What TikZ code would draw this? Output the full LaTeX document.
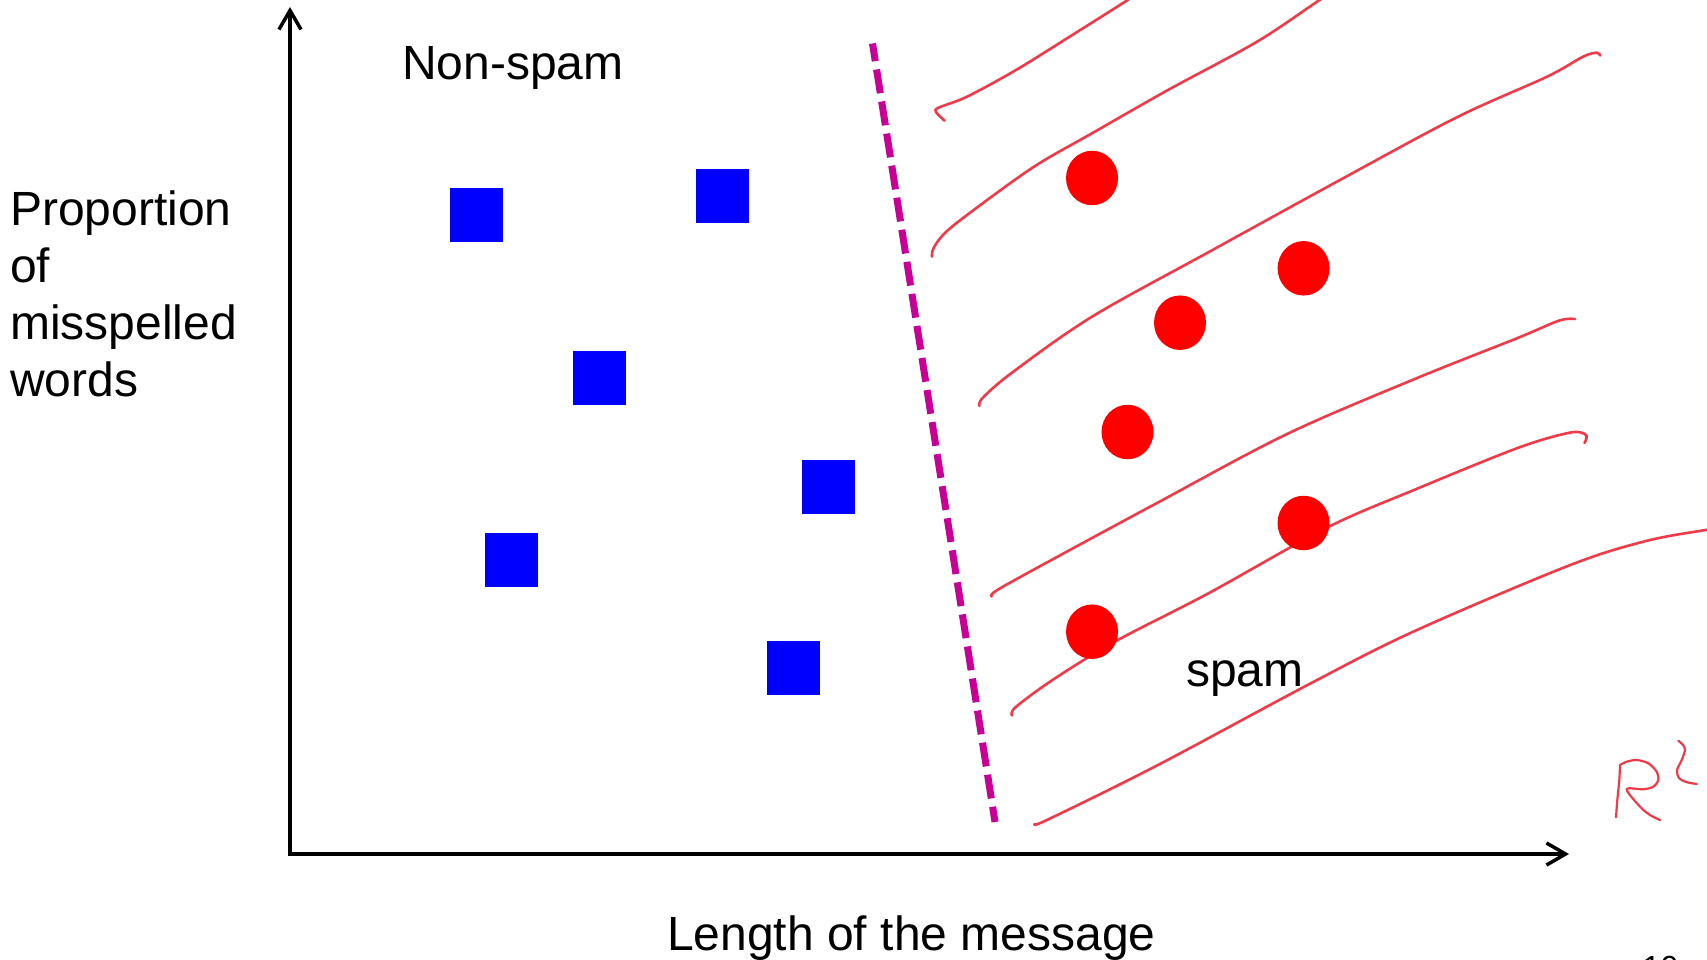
\documentclass[tikz,border=0pt]{standalone}
\usepackage{fontspec}
\setmainfont{Liberation Sans}
\usetikzlibrary{arrows.meta,shapes.geometric}
\definecolor{penred}{RGB}{240,58,74}
\definecolor{dotred}{RGB}{255,0,0}
\definecolor{sqblue}{RGB}{0,0,255}
\definecolor{magline}{RGB}{200,0,150}
\begin{document}
\begin{tikzpicture}[x=1pt,y=-1pt,
  lbl/.style={inner sep=0pt, font=\fontsize{48}{57}\selectfont},
  sqbox/.style={fill=sqblue, minimum width=53pt, minimum height=54pt, inner sep=0pt},
  spot/.style={ellipse, fill=dotred, minimum width=52pt, minimum height=54.5pt, inner sep=0pt},
  penstroke/.style={draw=penred, line width=2.6pt, line cap=round, line join=round},
  axisline/.style={line width=3.5pt, line join=miter,
     arrows={Straight Barb[length=19pt,width=22pt]-Straight Barb[length=19pt,width=22pt]}},
  sepline/.style={draw=magline, line width=7pt, dash pattern=on 24pt off 8.45pt, dash phase=6.15pt}
]
\useasboundingbox (0,0) rectangle (1707,960);

% axes
\coordinate (O) at (290,854);
\coordinate (ytip) at (290,7);
\coordinate (xtip) at (1569,854);
\draw[axisline] (ytip) -- (O) -- (xtip);

% labels
\node[lbl, anchor=base west] (nonspam) at (402,80) {Non-spam};
\node[lbl, anchor=north west, align=left] (ylabel) at (10,191) {Proportion\\of\\misspelled\\words};
\node[lbl, anchor=base west] (xlabel) at (667,950) {Length of the message};
\node[lbl, anchor=base west] (spam) at (1186,686.7) {spam};
\node[inner sep=0pt, anchor=base west, font=\fontsize{32}{38}\selectfont] (page) at (1642.5,978) {10};

% blue squares (non-spam)
\node[sqbox] (s1) at (476.5,214.6) {};
\node[sqbox] (s2) at (722.5,196.4) {};
\node[sqbox] (s3) at (599.5,377.5) {};
\node[sqbox] (s4) at (828.5,486.5) {};
\node[sqbox] (s5) at (511.5,559.6) {};
\node[sqbox] (s6) at (793.5,667.5) {};

% separating dashed line
\coordinate (dtop) at (872.5,43.5);
\coordinate (dbot) at (995,822);
\draw[sepline] (dtop) -- (dbot);

% hatching strokes
\draw[penstroke] plot[smooth, tension=0.55] coordinates {(944.6,120.7) (936,112) (939,107.5) (967,96.7) (1016,70) (1069.6,36.7) (1127.7,0) (1150,-15)};
\draw[penstroke] plot[smooth, tension=0.55] coordinates {(932,256.7) (933.5,248.3) (944.6,233.3) (971.4,211.7) (1034,166.7) (1092,133.3) (1168,90) (1257,41.7) (1319.6,0) (1340,-12)};
\draw[penstroke] plot[smooth, tension=0.55] coordinates {(979.5,406) (982.6,398) (1011.6,373) (1092,316.7) (1212.5,250) (1346,176.7) (1458,116.7) (1547,76.7) (1583,56.7) (1597,52.7) (1600,55.5)};
\draw[penstroke] plot[smooth, tension=0.55] coordinates {(991.6,596.6) (997.8,589.7) (1054,558.6) (1157,503) (1286,434.5) (1414.7,379) (1517.6,338) (1558.8,320.7) (1575,319)};
\draw[penstroke] plot[smooth, tension=0.55] coordinates {(1012,715.5) (1015.8,707) (1054,679) (1116,641) (1209,593) (1327,527.6) (1414.7,489.7) (1517.6,448) (1569,432.8) (1584.5,433.8) (1586.5,438) (1584.5,443)};
\draw[penstroke] plot[smooth, tension=0.55] coordinates {(1034.8,824) (1049,819) (1157,765.5) (1311.7,682.8) (1414.7,631) (1569,565.5) (1646,541) (1705.4,530) (1725,527)};

% red dots (spam)
\node[spot] (c1) at (1092,178) {};
\node[spot] (c2) at (1303.6,268.3) {};
\node[spot] (c3) at (1180,322.7) {};
\node[spot] (c4) at (1127.5,432) {};
\node[spot] (c5) at (1303.5,523) {};
\node[spot] (c6) at (1092,631.7) {};

% handwritten R^2
\draw[penstroke, line width=2.2pt] plot[smooth, tension=0.5] coordinates {(1616,817.3) (1617.3,800) (1619.3,780) (1620,765)};
\draw[penstroke, line width=2.2pt] plot[smooth, tension=0.5] coordinates {(1620,765) (1626.7,761.7) (1636.7,760) (1648.3,763.3) (1656.7,771.7) (1658.3,780) (1653.3,786.7) (1643.3,789.3) (1626.7,789.3) (1640,806.7) (1650,815) (1660,820)};
\draw[penstroke, line width=2.2pt] plot[smooth, tension=0.5] coordinates {(1678.3,740.7) (1683,745) (1685,750) (1681.7,760) (1677,770) (1679,778) (1686,782) (1696.7,784)};
\end{tikzpicture}
\end{document}
